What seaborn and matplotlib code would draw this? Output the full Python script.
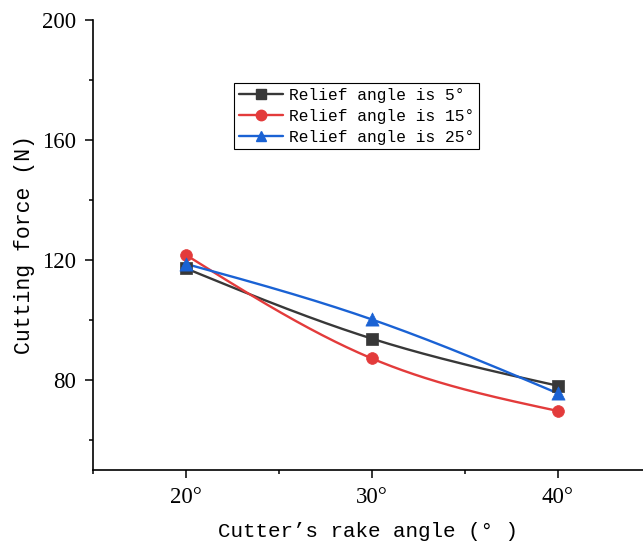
import numpy as np
import pandas as pd
import matplotlib
matplotlib.use("Agg")
import matplotlib.pyplot as plt
from matplotlib.lines import Line2D
from matplotlib.ticker import MultipleLocator, FuncFormatter
import seaborn as sns

# data
rake_angle = [20, 30, 40]
force_5 = [117.2, 93.8, 78.1]
force_15 = [121.7, 87.2, 69.7]
force_25 = [118.7, 100.2, 75.6]
series_names = ["Relief angle is 5°", "Relief angle is 15°", "Relief angle is 25°"]
series_colors = ["#383838", "#e33b3b", "#1a62d4"]
series_markers = ["s", "o", "^"]


def natural_spline(x, y, n=200):
    # natural cubic spline, just to draw the smooth connecting line
    x = np.asarray(x, float)
    y = np.asarray(y, float)
    k = len(x)
    h = np.diff(x)
    A = np.zeros((k, k))
    b = np.zeros(k)
    A[0, 0] = A[-1, -1] = 1
    for i in range(1, k - 1):
        A[i, i - 1] = h[i - 1]
        A[i, i] = 2 * (h[i - 1] + h[i])
        A[i, i + 1] = h[i]
        b[i] = 6 * ((y[i + 1] - y[i]) / h[i] - (y[i] - y[i - 1]) / h[i - 1])
    M = np.linalg.solve(A, b)
    xs = np.linspace(x[0], x[-1], n)
    ys = np.empty_like(xs)
    for j, xv in enumerate(xs):
        i = min(np.searchsorted(x, xv, side="right") - 1, k - 2)
        t1 = x[i + 1] - xv
        t0 = xv - x[i]
        ys[j] = (M[i] * t1 ** 3 + M[i + 1] * t0 ** 3) / (6 * h[i]) \
            + (y[i] / h[i] - M[i] * h[i] / 6) * t1 \
            + (y[i + 1] / h[i] - M[i + 1] * h[i] / 6) * t0
    return xs, ys


sns.set_style("ticks", {"axes.labelcolor": "black", "text.color": "black",
                        "xtick.color": "black", "ytick.color": "black",
                        "axes.edgecolor": "black"})
mono = "Liberation Mono"
serif = "Liberation Serif"

fig = plt.figure(figsize=(6.43, 5.47), dpi=100)
ax = fig.add_axes([0.1446, 0.1408, 0.8554, 0.8226])

handles = []
for name, vals, col, mk in zip(series_names, [force_5, force_15, force_25],
                               series_colors, series_markers):
    xs, ys = natural_spline(rake_angle, vals)
    sns.lineplot(x=xs, y=ys, ax=ax, color=col, linewidth=1.7, sort=False,
                 estimator=None)
    df = pd.DataFrame({"x": rake_angle, "y": vals})
    sns.scatterplot(data=df, x="x", y="y", ax=ax, color=col, marker=mk,
                    s=72 if mk != "^" else 90, edgecolor=col, linewidth=0.5,
                    zorder=5)
    handles.append(Line2D([], [], color=col, marker=mk, markersize=7.5,
                          linewidth=1.7, label=name))

ax.set_xlim(15, 44.6)
ax.set_ylim(50, 200)
ax.xaxis.set_major_locator(MultipleLocator(10))
ax.xaxis.set_minor_locator(MultipleLocator(5))
ax.yaxis.set_major_locator(MultipleLocator(40))
ax.yaxis.set_minor_locator(MultipleLocator(20))
ax.xaxis.set_major_formatter(FuncFormatter(lambda v, p: f"{v:.0f}°"))
ax.yaxis.set_major_formatter(FuncFormatter(lambda v, p: f"{v:.0f}"))

ax.tick_params(which="major", direction="out", length=6, width=1.1,
               labelsize=16.5, pad=6, colors="black")
ax.tick_params(which="minor", direction="out", length=3, width=1.1,
               colors="black")
for lab in ax.get_xticklabels() + ax.get_yticklabels():
    lab.set_fontfamily(serif)

for s in ["top", "right"]:
    ax.spines[s].set_visible(False)
for s in ["left", "bottom"]:
    ax.spines[s].set_linewidth(1.2)
    ax.spines[s].set_color("black")

ax.set_xlabel("Cutter’s rake angle (° )", fontsize=15, fontfamily=mono,
              labelpad=10, color="black")
ax.set_ylabel("Cutting force (N)", fontsize=15.5, fontfamily=mono, labelpad=5,
              color="black")

leg = ax.legend(handles=handles, loc="upper left",
                bbox_to_anchor=(0.256, 0.86), frameon=True, fancybox=False,
                edgecolor="black", framealpha=1, borderpad=0.3,
                labelspacing=0.36, handlelength=2.7, handletextpad=0.4,
                borderaxespad=0, prop={"family": mono, "size": 11.7})
leg.get_frame().set_linewidth(0.8)
for t in leg.get_texts():
    t.set_color("black")

fig.savefig("out.png", dpi=100)
